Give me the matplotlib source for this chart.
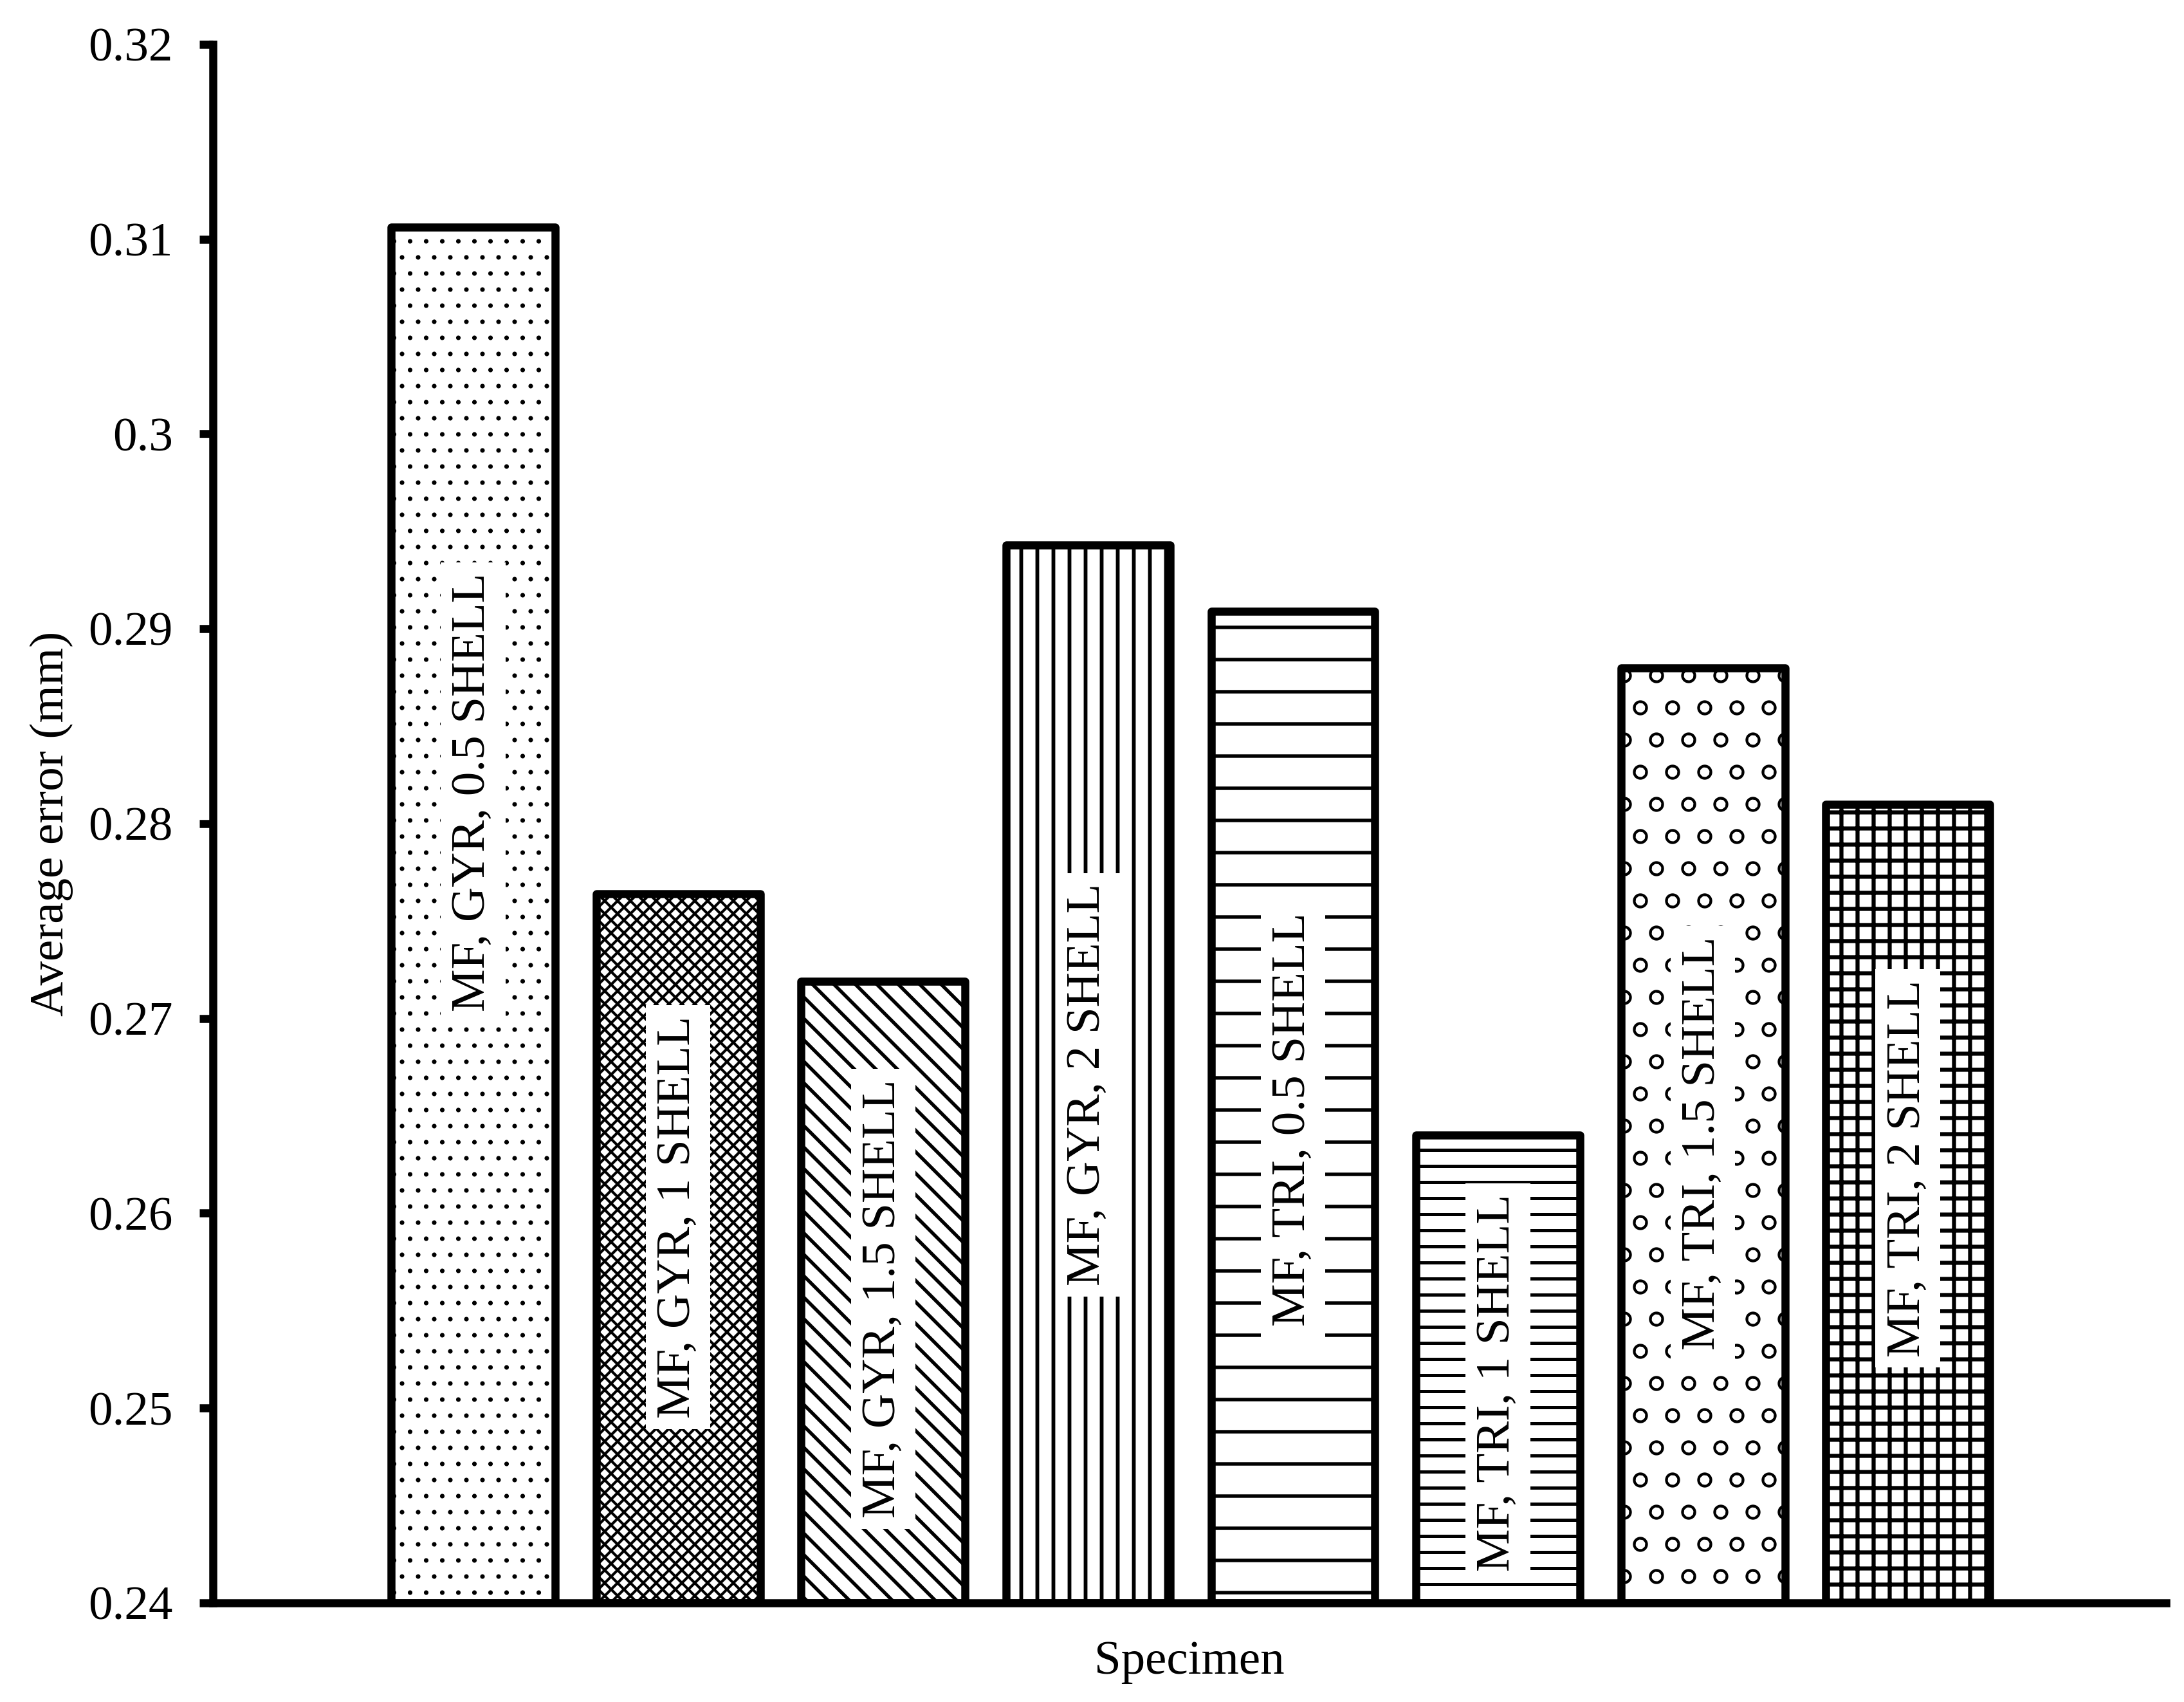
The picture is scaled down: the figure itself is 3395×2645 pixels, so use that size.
import matplotlib
matplotlib.use("Agg")
import matplotlib.pyplot as plt
import numpy as np

plt.rcParams['font.family'] = ['Liberation Serif', 'DejaVu Serif']
plt.rcParams['hatch.linewidth'] = 1.4
plt.rcParams['hatch.color'] = 'black'

# data
specimens = ["MF, GYR, 0.5 SHELL", "MF, GYR, 1 SHELL", "MF, GYR, 1.5 SHELL",
             "MF, GYR, 2 SHELL", "MF, TRI, 0.5 SHELL", "MF, TRI, 1 SHELL",
             "MF, TRI, 1.5 SHELL", "MF, TRI, 2 SHELL"]
avg_error = [0.3106, 0.2764, 0.2719, 0.2943, 0.2909, 0.2640, 0.2880, 0.2810]
# vertical position (data units) of each in-bar label
label_y = [0.2816, 0.2598, 0.2556, 0.2666, 0.2648, 0.2513, 0.2636, 0.2623]
hatches = ['..', 'xxxxx', '\\\\\\', '||', '-', '--', 'o', '++']
hatch_lw = [0.5, 1.0, 1.3, 1.4, 1.3, 1.2, 0.8, 1.5]
yticks = [0.24, 0.25, 0.26, 0.27, 0.28, 0.29, 0.30, 0.31, 0.32]

fig = plt.figure(figsize=(3395/300, 2645/300), dpi=300)
ax = fig.add_axes([0.0975, 0.0582, 0.8943, 0.9158])

x = np.arange(len(specimens))
base = yticks[0]
heights = [v - base for v in avg_error]
bars = ax.bar(x, heights, bottom=base, width=0.8, color='white',
              edgecolor='black', linewidth=3, zorder=2)
for b, h, lw in zip(bars, hatches, hatch_lw):
    b.set_hatch(h)
    b.set_joinstyle('round')
    if hasattr(b, 'set_hatch_linewidth'):
        b.set_hatch_linewidth(lw)

for xi, yi, name in zip(x, label_y, specimens):
    ax.text(xi, yi, name, rotation=90, ha='center', va='center', fontsize=18,
            bbox=dict(facecolor='white', edgecolor='none', pad=4), zorder=3)

ax.set_xlim(-1.27, len(specimens) - 1 + 1.26)
ax.set_ylim(yticks[0], yticks[-1])
ax.set_yticks(yticks)
ax.set_yticklabels(["%g" % t for t in yticks])
ax.set_xticks([])
ax.tick_params(axis='y', direction='out', length=5, width=3, pad=10, labelsize=18)

for s in ['top', 'right']:
    ax.spines[s].set_visible(False)
for s in ['left', 'bottom']:
    ax.spines[s].set_linewidth(3)

ax.set_ylabel("Average error (mm)", fontsize=18, labelpad=5.5)
ax.set_xlabel("Specimen", fontsize=18, labelpad=14)

plt.savefig("out.png", dpi=300)
